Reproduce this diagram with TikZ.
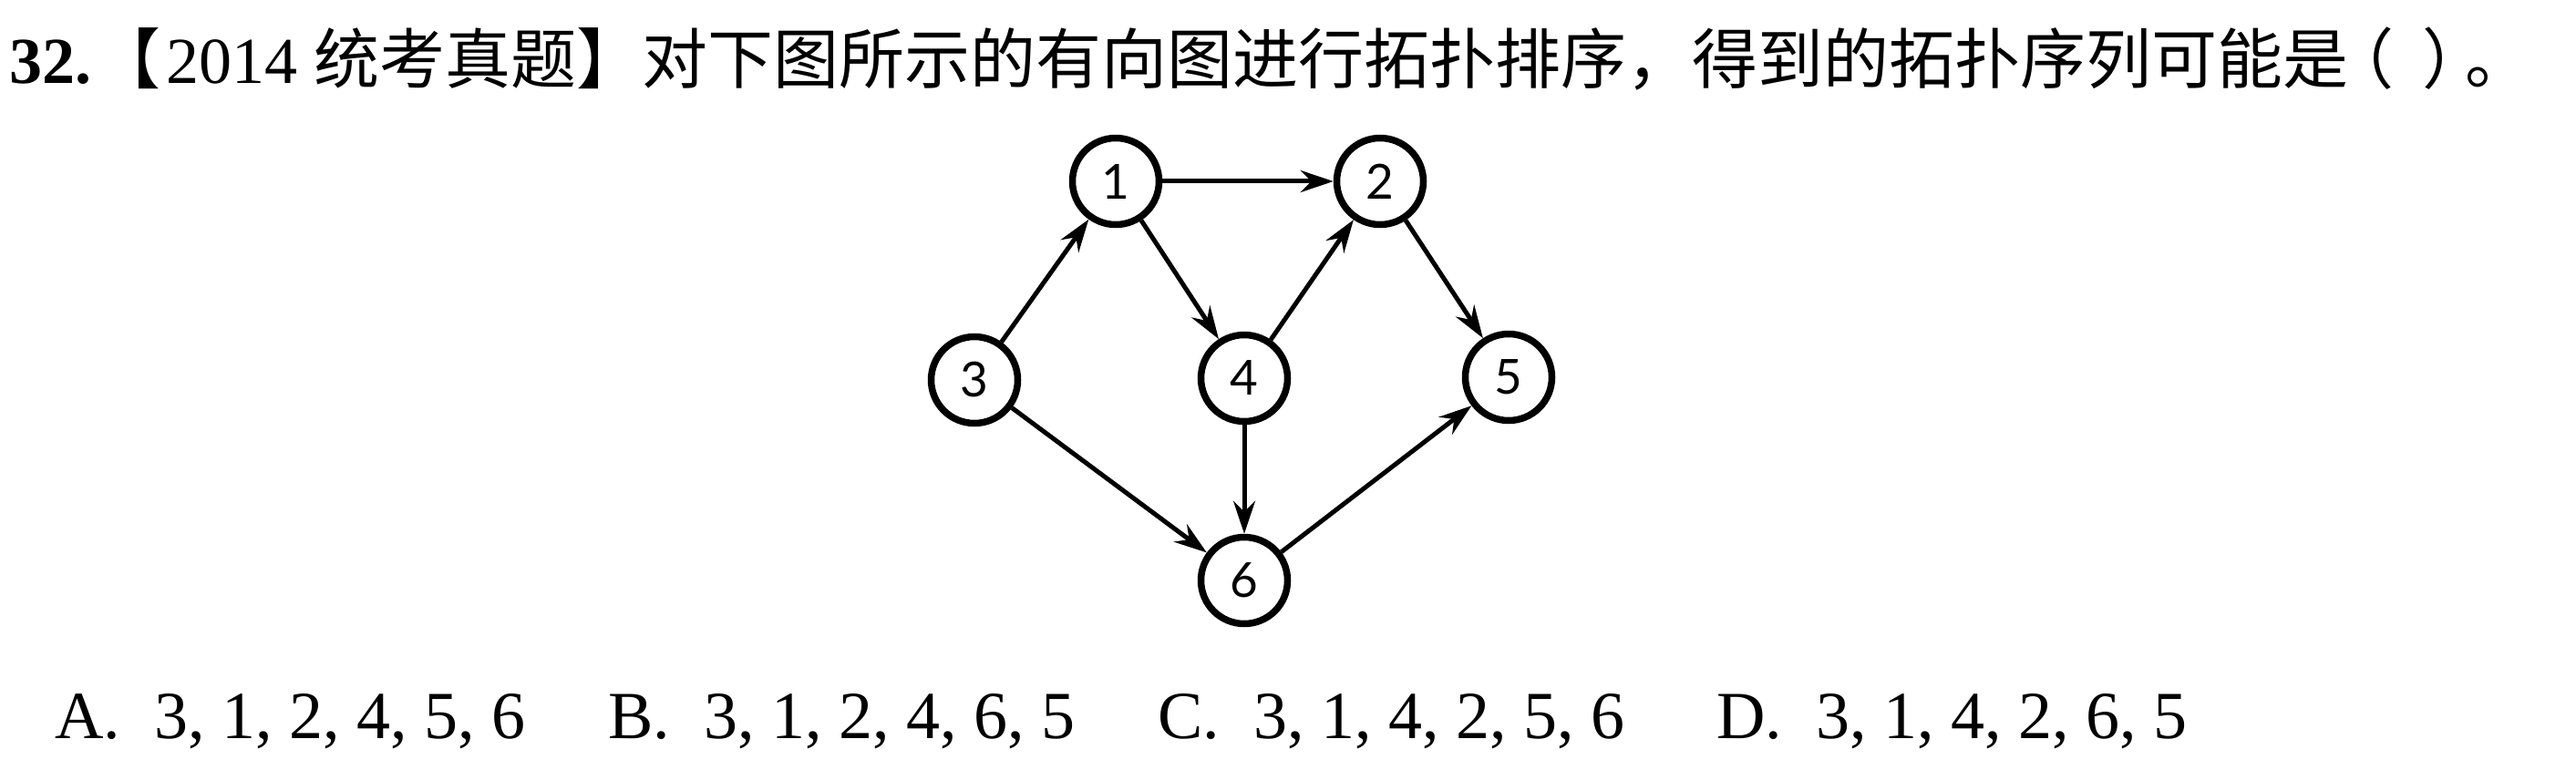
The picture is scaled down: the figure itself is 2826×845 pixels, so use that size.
\documentclass[tikz,border=0pt]{standalone}
\usepackage{fontspec}
\setmainfont{Liberation Serif}
\newfontfamily\cjk{Noto Sans CJK SC}
\newfontfamily\nodefont{Lato}
\usetikzlibrary{arrows.meta}
\begin{document}
\begin{tikzpicture}[x=1pt,y=-1pt,
  vertex/.style={circle,draw,line width=7.5pt,minimum size=95pt,inner sep=0pt,font=\nodefont\fontsize{53}{60}\selectfont},
  edge/.style={line width=5pt,-{Stealth[length=36pt,width=24pt,inset=12pt]}},
  opt/.style={anchor=base west,inner sep=0pt,font=\fontsize{74}{90}\selectfont}]
\useasboundingbox (0,0) rectangle (2826,845);
\fill[white] (0,0) rectangle (2826,845);
\node[anchor=base west,inner sep=0pt,font=\fontsize{72}{80}\selectfont] (title) at (10,92)
  {\textbf{32.}\hspace{4pt}{\cjk 【}\hspace{6pt}2014\hspace{18pt}{\cjk 统考真题】对下图所示的有向图进行拓扑排序，得到的拓扑序列可能是\hspace{-22pt}（\hspace{31pt}）\hspace{-25pt}。}};
\node[vertex] (n1) at (1224,199) {1};
\node[vertex] (n2) at (1514,199) {2};
\node[vertex] (n3) at (1069,417) {3};
\node[vertex] (n4) at (1365,415) {4};
\node[vertex] (n5) at (1655,414) {5};
\node[vertex] (n6) at (1365,637) {6};
\draw[edge] (n1) -- (n2);
\draw[edge] (n1) -- (n4);
\draw[edge] (n3) -- (n1);
\draw[edge] (n3) -- (n6);
\draw[edge] (n4) -- (n2);
\draw[edge] (n4) -- (n6);
\draw[edge] (n2) -- (n5);
\draw[edge] (n6) -- (n5);
\node[opt] (oa) at (60,810) {A.\ \ 3, 1, 2, 4, 5, 6};
\node[opt] (ob) at (667,810) {B.\ \ 3, 1, 2, 4, 6, 5};
\node[opt] (oc) at (1270,810) {C.\ \ 3, 1, 4, 2, 5, 6};
\node[opt] (od) at (1883,810) {D.\ \ 3, 1, 4, 2, 6, 5};
\end{tikzpicture}
\end{document}
